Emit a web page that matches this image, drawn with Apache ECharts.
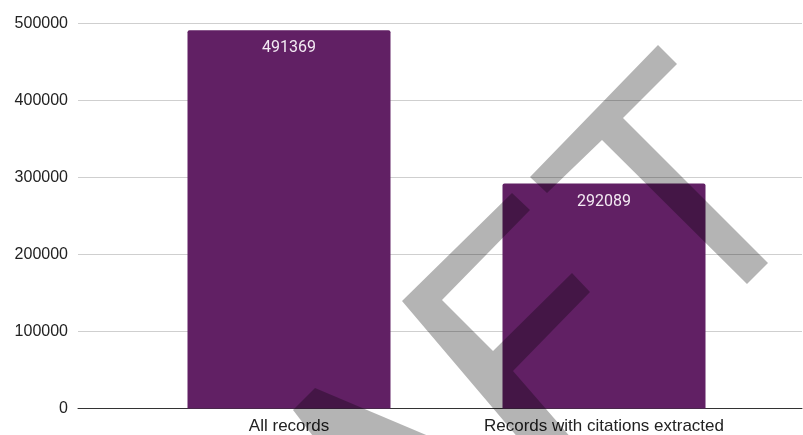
<!DOCTYPE html>
<html>
<head>
<meta charset="utf-8">
<script src="https://cdn.jsdelivr.net/npm/echarts@6/dist/echarts.min.js"></script>
<style>
  html, body { margin: 0; padding: 0; background: #ffffff; }
  #chart { width: 803px; height: 435px; }
</style>
</head>
<body>
<div id="chart"></div>
<script>
// Record counts
const categories = ['All records', 'Records with citations extracted'];
const recordCounts = [491369, 292089];
const yTicks = [0, 100000, 200000, 300000, 400000, 500000];

const yMin = yTicks[0];
const yMax = yTicks[yTicks.length - 1];
const yStep = yTicks[1] - yTicks[0];

const barColor = '#612064';
const shadeColor = 'rgba(0,0,0,0.295)';

// Decorative stamp drawn on top of the chart (pixel polygons)
const stampShapes = [
  [[658, 45], [677, 64], [623, 118], [768, 263], [747, 284], [602, 140], [547, 193], [530, 177]],
  [[402, 301], [512, 193], [530, 210], [442, 300], [493, 351], [572, 273], [590, 292], [513, 371], [573, 440], [520, 440]],
  [[315, 388], [438, 440], [316, 440], [293, 410]]
];

const chart = echarts.init(document.getElementById('chart'), null, { renderer: 'canvas' });

const gridTop = 23.5;
const gridBottom = 26.5;

chart.setOption({
  animation: false,
  backgroundColor: '#ffffff',
  grid: [
    { left: 78, right: 1, top: gridTop, bottom: gridBottom },
    { left: 131.5, width: 630, top: gridTop, bottom: gridBottom }
  ],
  xAxis: [
    {
      gridIndex: 0, type: 'category', data: [''],
      axisLine: { show: true, lineStyle: { color: '#333333', width: 1 } },
      axisTick: { show: false }, axisLabel: { show: false }, splitLine: { show: false }
    },
    {
      gridIndex: 1, type: 'category', data: categories,
      axisLine: { show: false }, axisTick: { show: false },
      axisLabel: {
        color: '#222222', fontFamily: 'Liberation Sans, Arial, sans-serif',
        fontSize: 17, margin: 9, interval: 0
      }
    }
  ],
  yAxis: [
    {
      gridIndex: 0, type: 'value', min: yMin, max: yMax, interval: yStep,
      axisLine: { show: false }, axisTick: { show: false },
      axisLabel: {
        color: '#222222', fontFamily: 'Liberation Sans, Arial, sans-serif',
        fontSize: 16, margin: 10,
        formatter: v => String(v)
      },
      splitLine: { show: true, lineStyle: { color: '#cfcfcf', width: 1 } }
    },
    {
      gridIndex: 1, type: 'value', min: yMin, max: yMax, interval: yStep,
      axisLine: { show: false }, axisTick: { show: false },
      axisLabel: { show: false }, splitLine: { show: false }
    }
  ],
  series: [
    {
      type: 'bar',
      xAxisIndex: 1, yAxisIndex: 1,
      data: recordCounts,
      barWidth: 203,
      itemStyle: { color: barColor, borderRadius: [2, 2, 0, 0] },
      label: {
        show: true, position: 'insideTop', distance: 10,
        color: '#f3eaf3', fontFamily: 'Roboto, sans-serif', fontSize: 16
      }
    }
  ],
  graphic: stampShapes.map(pts => ({
    type: 'polygon',
    z: 100,
    silent: true,
    shape: { points: pts },
    style: { fill: shadeColor }
  }))
});
</script>
</body>
</html>
